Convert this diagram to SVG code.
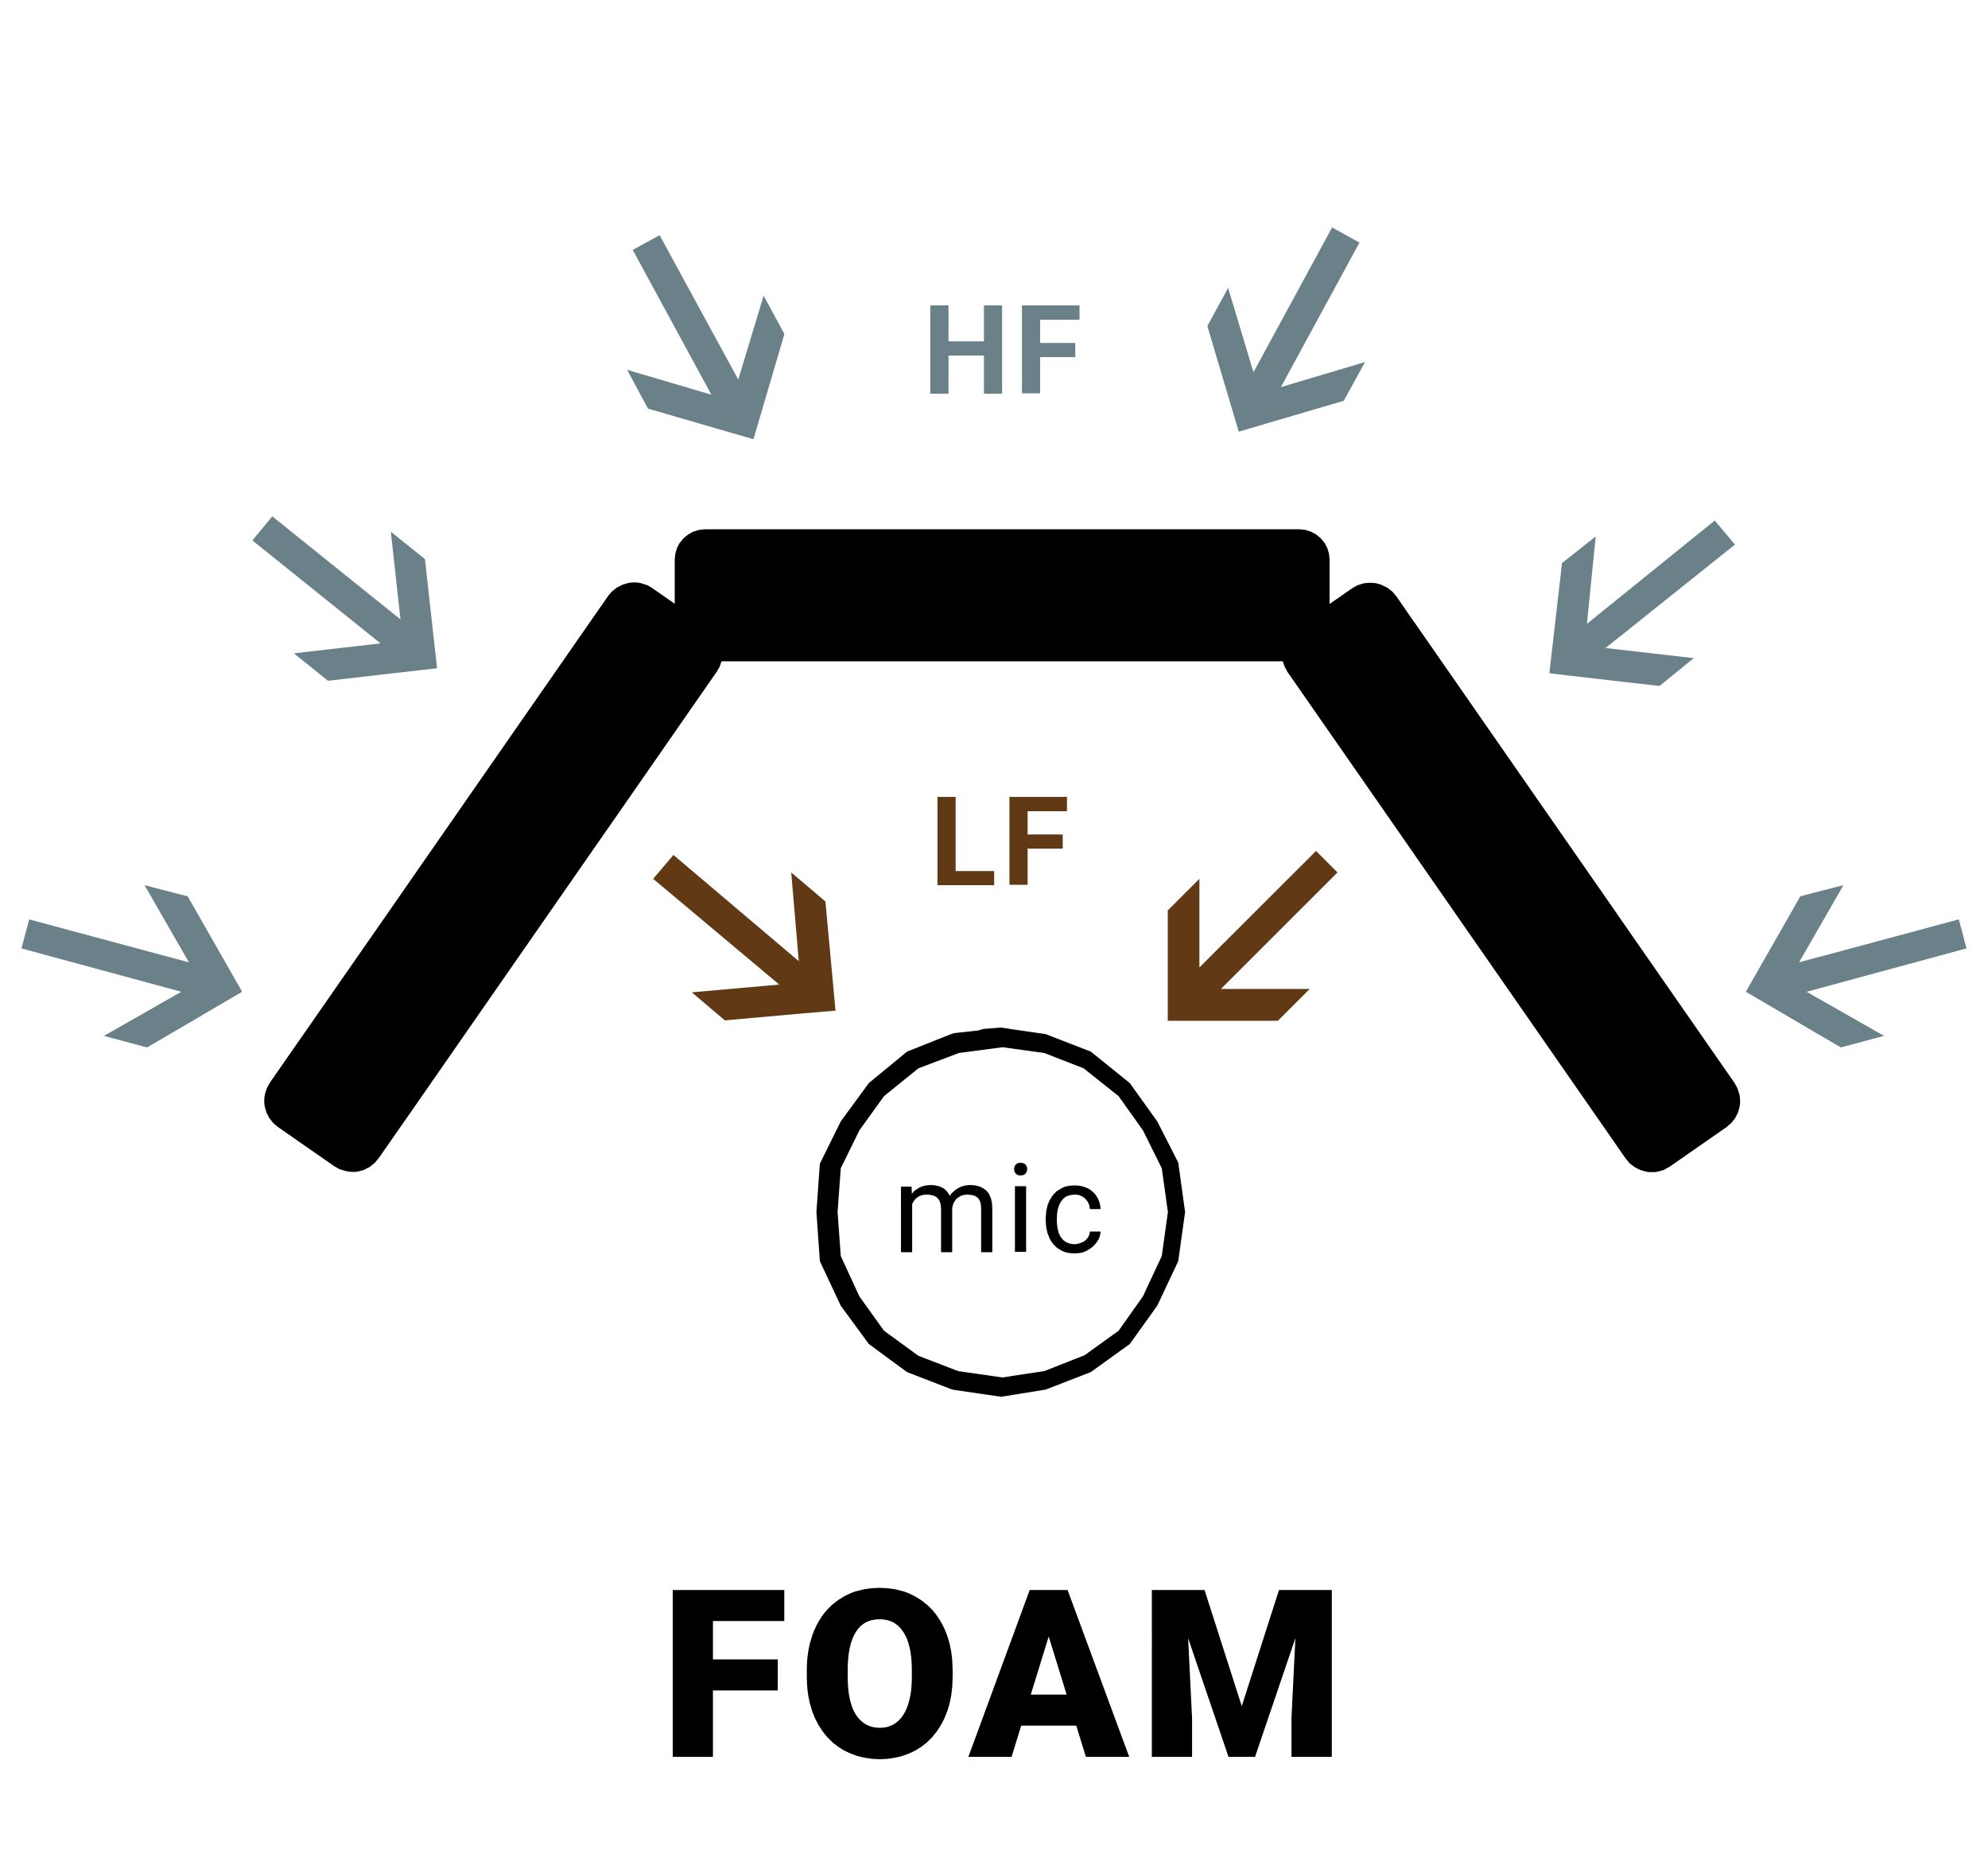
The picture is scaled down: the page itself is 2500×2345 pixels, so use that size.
<svg xmlns="http://www.w3.org/2000/svg" width="2500" height="2345" viewBox="0 0 2500 2345">
<style>
.foam{fill:#000}
.hf{fill:#6a818a}
.lf{fill:#613914}
text{font-family:Roboto,"Liberation Sans",sans-serif}
.t-hf{font-size:156px;font-weight:700;fill:#6a818a;letter-spacing:5px}
.t-lf{font-size:156px;font-weight:700;fill:#613914;letter-spacing:6px}
.t-mic{font-size:155px;font-weight:400;fill:#000;letter-spacing:6px}
.t-foam{font-size:295px;font-weight:900;fill:#000;letter-spacing:13.2px}
</style>
<rect width="2500" height="2345" fill="#fff"/>
<g id="foam-left"><rect class="foam" x="537.9" y="691" width="166.6" height="825" rx="40" transform="rotate(34.8 621.7 1102)"/></g>
<g id="foam-right"><rect class="foam" x="1816" y="691" width="166.6" height="825" rx="40" transform="rotate(-34.8 1899.3 1102)"/></g>
<g id="foam-top"><rect class="foam" x="848.5" y="665.5" width="823.5" height="166" rx="38"/></g>
<g id="hf-label"><text class="t-hf" x="1160" y="495">HF</text></g>
<g id="lf-label"><text class="t-lf" x="1169" y="1113">LF</text></g>
<g id="foam-label"><text class="t-foam" x="830" y="2209">FOAM</text></g>
<g id="mic">
<path fill-rule="evenodd" fill="#000" d="M1259 1292L1315 1300.3L1371.7 1322.3L1420.7 1361.7L1455.3 1410L1481.7 1461.7L1490.3 1524L1481.7 1585.7L1455.3 1641.7L1420.7 1690L1371.7 1725.3L1315 1747.3L1259 1756.3L1197.7 1747.3L1140.7 1725.3L1092.7 1690L1057.3 1641.7L1031 1585.7L1026.7 1524L1031 1463.3L1057.3 1410L1092.7 1361.7L1140.7 1322.3L1196.7 1300L1200 1299L1230 1295.7L1236.7 1293.7ZM1261 1316.7L1313.3 1324L1362.7 1343.3L1406.7 1378.3L1437.3 1421.3L1461 1469L1468.7 1524L1461 1579.3L1437.3 1630L1406.7 1673.3L1364 1704L1313.3 1724L1261 1732L1205 1724L1155 1704.7L1111.7 1673.3L1080.7 1630L1057.3 1579.3L1053.3 1524L1057.3 1469L1080.7 1421.3L1111.7 1378.3L1155 1343.3L1206 1324Z"/>
<text class="t-mic" x="1122.5" y="1574">mic</text>
</g>
<g id="connectors">
<polygon class="hf" points="829.5,295.7 928.4,477.3 960.3,371.7 986.4,420 947.5,552.3 814.8,513.7 788.7,465 894.6,496.3 795.7,314.3"/>
<polygon class="hf" points="1675.2,286 1576.3,468 1544.4,362 1518.3,410 1557.8,542.7 1689.8,504 1716.6,455.3 1610.8,486.7 1709.6,305"/>
<polygon class="hf" points="342.4,649.3 503.6,778.8 491.5,668.5 534.4,703 549.6,840.2 412.5,856 369.6,821.6 478.6,809 317.4,679.5"/>
<polygon class="hf" points="2156.4,654.5 1995.6,784.4 2006.7,674.4 1964.3,708 1948.4,846.6 2087,862.6 2130,827.5 2019,814.8 2181.8,684.8"/>
<polygon class="hf" points="36.7,1156 237.6,1210 181.8,1113 236,1127 304.5,1247 185,1317 130.7,1302.6 228,1247 27,1192.6"/>
<polygon class="hf" points="2463.3,1156 2262.4,1210 2318.2,1113 2264,1127 2195.5,1247 2315,1317 2369.3,1302.6 2272,1247 2473,1192.6"/>
<polygon class="lf" points="846.9,1075 1004.5,1208.6 995,1097 1038,1133.6 1050.7,1270.7 911.6,1283 870,1247.8 980,1238 821.4,1105"/>
<polygon class="lf" points="1655,1070 1508.3,1216.5 1508.3,1105 1468.5,1144.8 1468.5,1283.5 1607,1283.5 1647,1243.6 1535.4,1243.6 1682,1097"/>
</g>
</svg>
